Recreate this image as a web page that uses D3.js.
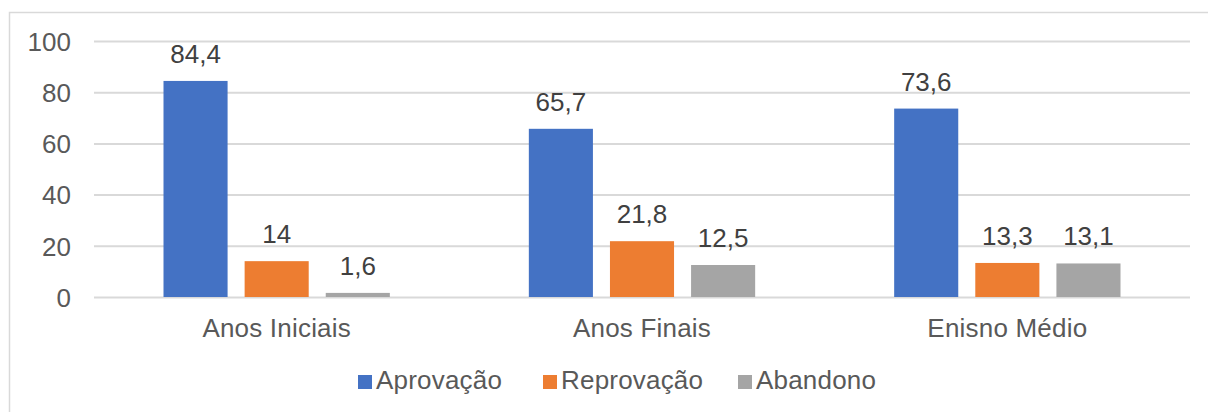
<!DOCTYPE html>
<html>
<head>
<meta charset="utf-8">
<script src="https://cdn.jsdelivr.net/npm/d3@7"></script>
<style>
  html, body { margin: 0; padding: 0; background: #fff; }
  svg { display: block; font-family: "Liberation Sans", Arial, sans-serif; }
</style>
</head>
<body>
<svg id="chart" width="1208" height="412"></svg>
<script>
const categories = ["Anos Iniciais", "Anos Finais", "Enisno Médio"];
const seriesNames = ["Aprovação", "Reprovação", "Abandono"];
const aprovacao = [84.4, 65.7, 73.6];
const reprovacao = [14, 21.8, 13.3];
const abandono = [1.6, 12.5, 13.1];
const yTicks = [0, 20, 40, 60, 80, 100];
const colors = ["#4472C4", "#ED7D31", "#A5A5A5"];

const seriesValues = [aprovacao, reprovacao, abandono];
const fmt = v => String(v).replace(".", ",");
const FS = 26;

const svg = d3.select("#chart");
const W = 1208, H = 412;
const plot = { left: 94, right: 1190, top: 41, bottom: 297 };

// chart border (top and left visible)
svg.append("rect")
  .attr("x", 9.5).attr("y", 12.5)
  .attr("width", W + 10).attr("height", H + 10)
  .attr("fill", "none").attr("stroke", "#D9D9D9").attr("stroke-width", 1.5);

const y = d3.scaleLinear().domain([0, 100]).range([plot.bottom, plot.top]);
const x0 = d3.scaleBand().domain(categories).range([plot.left, plot.right]).padding(0);
const x1 = d3.scaleBand().domain(seriesNames)
  .range([69.5, x0.bandwidth() - 69.5]).paddingInner(0.21).paddingOuter(0);

// gridlines
const yAxis = d3.axisLeft(y).tickValues(yTicks).tickSize(-(plot.right - plot.left)).tickPadding(23);
const gy = svg.append("g").attr("transform", `translate(${plot.left},0)`).call(yAxis);
gy.select(".domain").remove();
gy.selectAll(".tick line").attr("stroke", "#D9D9D9").attr("stroke-width", 2);
gy.selectAll(".tick text")
  .attr("fill", "#595959").attr("font-size", FS)
  .attr("font-family", "Liberation Sans, Arial, sans-serif")
  .attr("dy", "0.36em");

// bars
const groups = svg.append("g").selectAll("g")
  .data(categories).join("g")
  .attr("transform", d => `translate(${x0(d)},0)`);

groups.each(function(cat, ci) {
  const g = d3.select(this);
  seriesNames.forEach((s, si) => {
    const v = seriesValues[si][ci];
    g.append("rect")
      .attr("x", x1(s)).attr("width", x1.bandwidth())
      .attr("y", y(v)).attr("height", y(0) - y(v))
      .attr("fill", colors[si]);
    g.append("text")
      .attr("x", x1(s) + x1.bandwidth() / 2)
      .attr("y", y(v) - 18)
      .attr("text-anchor", "middle")
      .attr("font-size", FS)
      .attr("fill", "#404040")
      .text(fmt(v));
  });
});

// x axis labels
const xAxis = d3.axisBottom(x0).tickSize(0).tickPadding(22);
const gx = svg.append("g").attr("transform", `translate(0,${plot.bottom})`).call(xAxis);
gx.select(".domain").remove();
gx.selectAll(".tick text")
  .attr("fill", "#595959").attr("font-size", FS)
  .attr("font-family", "Liberation Sans, Arial, sans-serif")
  .attr("letter-spacing", "0.2px")
  .attr("dy", "0.71em");

// legend
const legendX = [358, 543, 738];
const legend = svg.append("g");
seriesNames.forEach((s, i) => {
  const g = legend.append("g").attr("transform", `translate(${legendX[i]},0)`);
  g.append("rect").attr("x", 0).attr("y", 375).attr("width", 14).attr("height", 14).attr("fill", colors[i]);
  g.append("text").attr("x", 18).attr("y", 389)
    .attr("font-size", FS).attr("letter-spacing", "0.2px")
    .attr("fill", "#595959").text(s);
});
</script>
</body>
</html>
